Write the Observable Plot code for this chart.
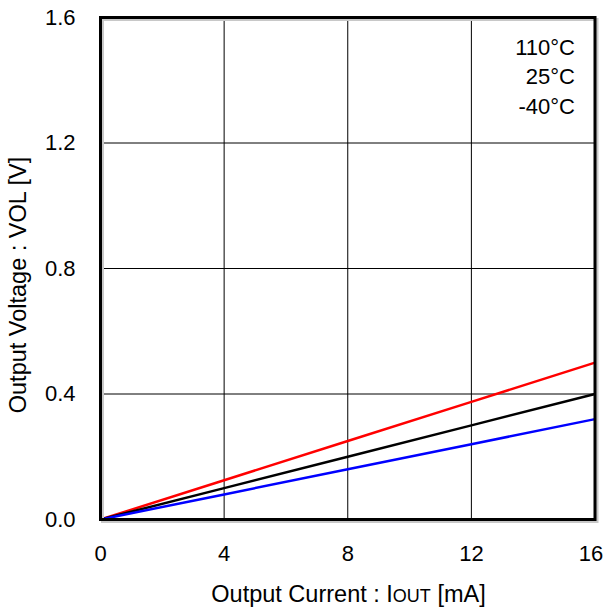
<!DOCTYPE html>
<html>
<head>
<meta charset="utf-8">
<script src="https://cdn.jsdelivr.net/npm/d3@7"></script>
<script src="https://cdn.jsdelivr.net/npm/@observablehq/plot@0.6"></script>
<style>
  html, body { margin: 0; padding: 0; background: #fff; }
  svg { font-family: "Liberation Sans", Arial, sans-serif; }
</style>
</head>
<body>
<div id="chart"></div>
<script>
// Data
const current = [0, 4, 8, 12, 16];               // Output current IOUT [mA]
const vol110 = [0, 0.125, 0.25, 0.375, 0.5];     // 110°C (red)
const vol25 = [0, 0.1, 0.2, 0.3, 0.4];           // 25°C (black)
const volM40 = [0, 0.08, 0.16, 0.24, 0.32];      // -40°C (blue)
const xTicks = [0, 4, 8, 12, 16];
const yTicks = [0, 0.4, 0.8, 1.2, 1.6];
const legendLabels = ["110°C", "25°C", "-40°C"];
const seriesColors = ["#ff0000", "#000000", "#0000ff"];

const seriesValues = [vol110, vol25, volM40];
const rows = legendLabels.flatMap((name, k) => current.map((c, i) => ({i: c, v: seriesValues[k][i], name, color: seriesColors[k]})));

const W = 606, H = 612;
const mL = 100, mR = 11.5, mT = 17, mB = 93;
const plot = Plot.plot({
  width: W,
  height: H,
  marginLeft: mL,
  marginRight: mR,
  marginTop: mT,
  marginBottom: mB,
  style: {fontFamily: '"Liberation Sans", Arial, sans-serif', fontSize: "22px", color: "#000", background: "#fff", overflow: "visible"},
  x: {domain: [0, 16]},
  y: {domain: [0, 1.6]},
  marks: [
    Plot.gridX(xTicks, {stroke: "#000", strokeOpacity: 1, strokeWidth: 1}),
    Plot.gridY(yTicks, {stroke: "#000", strokeOpacity: 1, strokeWidth: 1}),
    Plot.line(rows, {x: "i", y: "v", z: "name", stroke: "color", strokeWidth: 2.5}),
    Plot.frame({stroke: "#c8c8c8", strokeWidth: 3, dx: 2, dy: 2}),
    Plot.frame({stroke: "#000", strokeWidth: 3}),
    Plot.axisX(xTicks.slice(0, -1), {tickSize: 0, tickPadding: 26, fontSize: 22, tickFormat: d => String(d), label: null}),
    Plot.axisX(xTicks.slice(-1), {tickSize: 0, tickPadding: 26, fontSize: 22, dx: -4, tickFormat: d => String(d), label: null}),
    Plot.axisY(yTicks, {tickSize: 0, tickPadding: 25, fontSize: 22, tickFormat: d => d.toFixed(1), label: null}),
    ...legendLabels.map((lab, i) =>
      Plot.text([lab], {frameAnchor: "top-right", dx: -20, dy: 30 + i * 29.5, text: d => d, textAnchor: "end", lineAnchor: "middle", fontSize: 22, fill: "#000"}))
  ]
});
document.getElementById("chart").appendChild(plot);

const svg = d3.select(plot);
// X axis title with small-caps subscript "OUT"
const xt = svg.append("text")
  .attr("x", 348.5)
  .attr("y", 602)
  .attr("text-anchor", "middle")
  .attr("font-size", 23.5)
  .attr("fill", "#000");
xt.append("tspan").text("Output Current : I");
xt.append("tspan").attr("font-size", 18).text("OUT");
xt.append("tspan").text(" [mA]");

// Y axis title
svg.append("text")
  .attr("transform", `translate(26,285) rotate(-90)`)
  .attr("text-anchor", "middle")
  .attr("font-size", 23.5)
  .attr("fill", "#000")
  .text("Output Voltage : VOL [V]");
</script>
</body>
</html>
